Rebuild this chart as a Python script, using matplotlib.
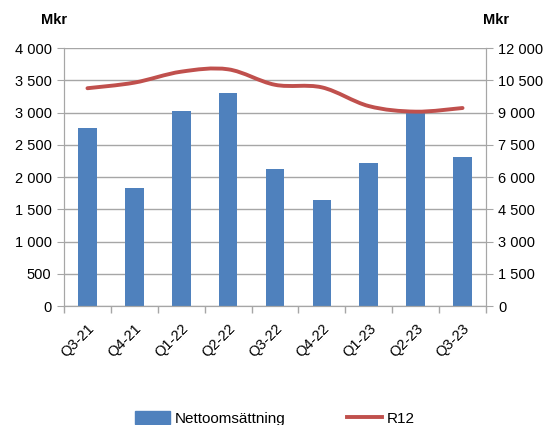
import matplotlib.pyplot as plt
import numpy as np
from matplotlib.path import Path
from matplotlib.patches import PathPatch
from matplotlib.lines import Line2D
from matplotlib.ticker import FuncFormatter, FixedLocator

plt.rcParams["font.family"] = ["Liberation Sans", "DejaVu Sans"]

# Data
kvartal = ["Q3-21", "Q4-21", "Q1-22", "Q2-22", "Q3-22", "Q4-22", "Q1-23", "Q2-23", "Q3-23"]
nettoomsattning = [2765, 1835, 3030, 3307, 2130, 1645, 2218, 2995, 2305]
r12 = [10130, 10390, 10900, 11010, 10290, 10170, 9300, 9040, 9210]

blue = "#4F81BD"
red = "#C0504D"
grid_col = "#A6A6A6"


def tusental(v, pos):
    return f"{int(v):,}".replace(",", " ")


# Utjämnad linje (Catmull-Rom -> Bezier), som Excels "smoothed line"
def smooth_path(xs, ys, t=1 / 6):
    xs = np.asarray(xs, float)
    ys = np.asarray(ys, float)
    n = len(xs)
    verts = [(xs[0], ys[0])]
    codes = [Path.MOVETO]
    for i in range(n - 1):
        i0 = max(i - 1, 0)
        i3 = min(i + 2, n - 1)
        c1 = (xs[i] + (xs[i + 1] - xs[i0]) * t, ys[i] + (ys[i + 1] - ys[i0]) * t)
        c2 = (xs[i + 1] - (xs[i3] - xs[i]) * t, ys[i + 1] - (ys[i3] - ys[i]) * t)
        verts += [c1, c2, (xs[i + 1], ys[i + 1])]
        codes += [Path.CURVE4] * 3
    return Path(verts, codes)


fig = plt.figure(figsize=(5.5, 4.25), dpi=100)
ax = fig.add_axes([0.1164, 0.28, 0.7672, 0.607])
ax2 = ax.twinx()

x = np.arange(len(kvartal))
ax.bar(x, nettoomsattning, width=0.4, color=blue, zorder=2)
ax.set_xlim(-0.5, len(kvartal) - 0.5)
ax.set_ylim(0, 4000)
ax.set_yticks(np.arange(0, 4001, 500))
ax.yaxis.set_major_formatter(FuncFormatter(tusental))
ax.yaxis.grid(True, color=grid_col, linewidth=1)
ax.set_axisbelow(True)

ax2.add_patch(PathPatch(smooth_path(x, r12), facecolor="none", edgecolor=red,
                        linewidth=2.8, capstyle="round", zorder=3))
ax2.set_ylim(0, 12000)
ax2.set_yticks(np.arange(0, 12001, 1500))
ax2.yaxis.set_major_formatter(FuncFormatter(tusental))

ax.set_xticks(x)
ax.set_xticklabels(kvartal, rotation=45, ha="right", rotation_mode="anchor")
ax.tick_params(axis="x", length=0, pad=11)
ax.xaxis.set_minor_locator(FixedLocator(np.arange(-0.5, len(kvartal), 1)))
ax.tick_params(axis="x", which="minor", length=5, color=grid_col, width=1)

for a in (ax, ax2):
    a.spines["top"].set_visible(False)
    a.spines["left"].set_color(grid_col)
    a.spines["right"].set_color(grid_col)
    a.spines["bottom"].set_color(grid_col)
    a.tick_params(axis="y", length=5, color=grid_col, labelsize=10.5, pad=4)
ax.tick_params(axis="x", labelsize=10.5)

fig.text(0.075, 0.952, "Mkr", fontsize=10.5, fontweight="bold", ha="left", va="center")
fig.text(0.878, 0.952, "Mkr", fontsize=10.5, fontweight="bold", ha="left", va="center")

handles = [plt.Rectangle((0, 0), 1, 1, color=blue),
           Line2D([0], [0], color=red, linewidth=2.8)]
fig.legend(handles, ["Nettoomsättning", "R12"], loc="center", ncol=2,
           bbox_to_anchor=(0.5, 0.015), frameon=False, fontsize=11,
           handlelength=2.3, handleheight=0.9, columnspacing=4.0, handletextpad=0.3)

fig.savefig("out.png", dpi=100)
